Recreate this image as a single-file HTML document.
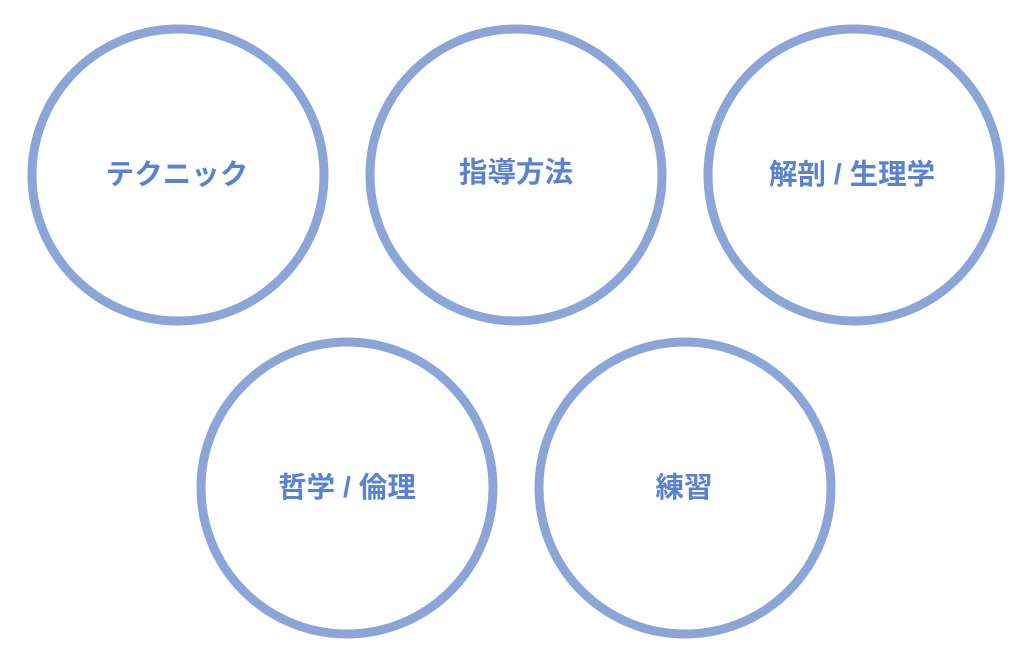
<!DOCTYPE html>
<html><head><meta charset="utf-8"><style>
html,body{margin:0;padding:0;background:#fff;}
svg{display:block;}
text{font-family:"Liberation Sans","Noto Sans CJK JP",sans-serif;font-weight:bold;font-size:28.5px;fill:#5b82d0;text-anchor:middle;dominant-baseline:central;}
</style></head><body>
<svg width="1024" height="664" viewBox="0 0 1024 664">
<g fill="none" stroke="#8ca5d8" stroke-width="9">
<circle cx="178" cy="175" r="146"/>
<circle cx="516" cy="175" r="146"/>
<circle cx="854" cy="175" r="146"/>
<circle cx="347" cy="488" r="146"/>
<circle cx="685" cy="488" r="146"/>
</g>
<text x="177" y="175">テクニック</text>
<text x="516" y="173">指導方法</text>
<text x="852" y="175">解剖 / 生理学</text>
<text x="347" y="488">哲学 / 倫理</text>
<text x="684" y="488">練習</text>
</svg>
</body></html>
